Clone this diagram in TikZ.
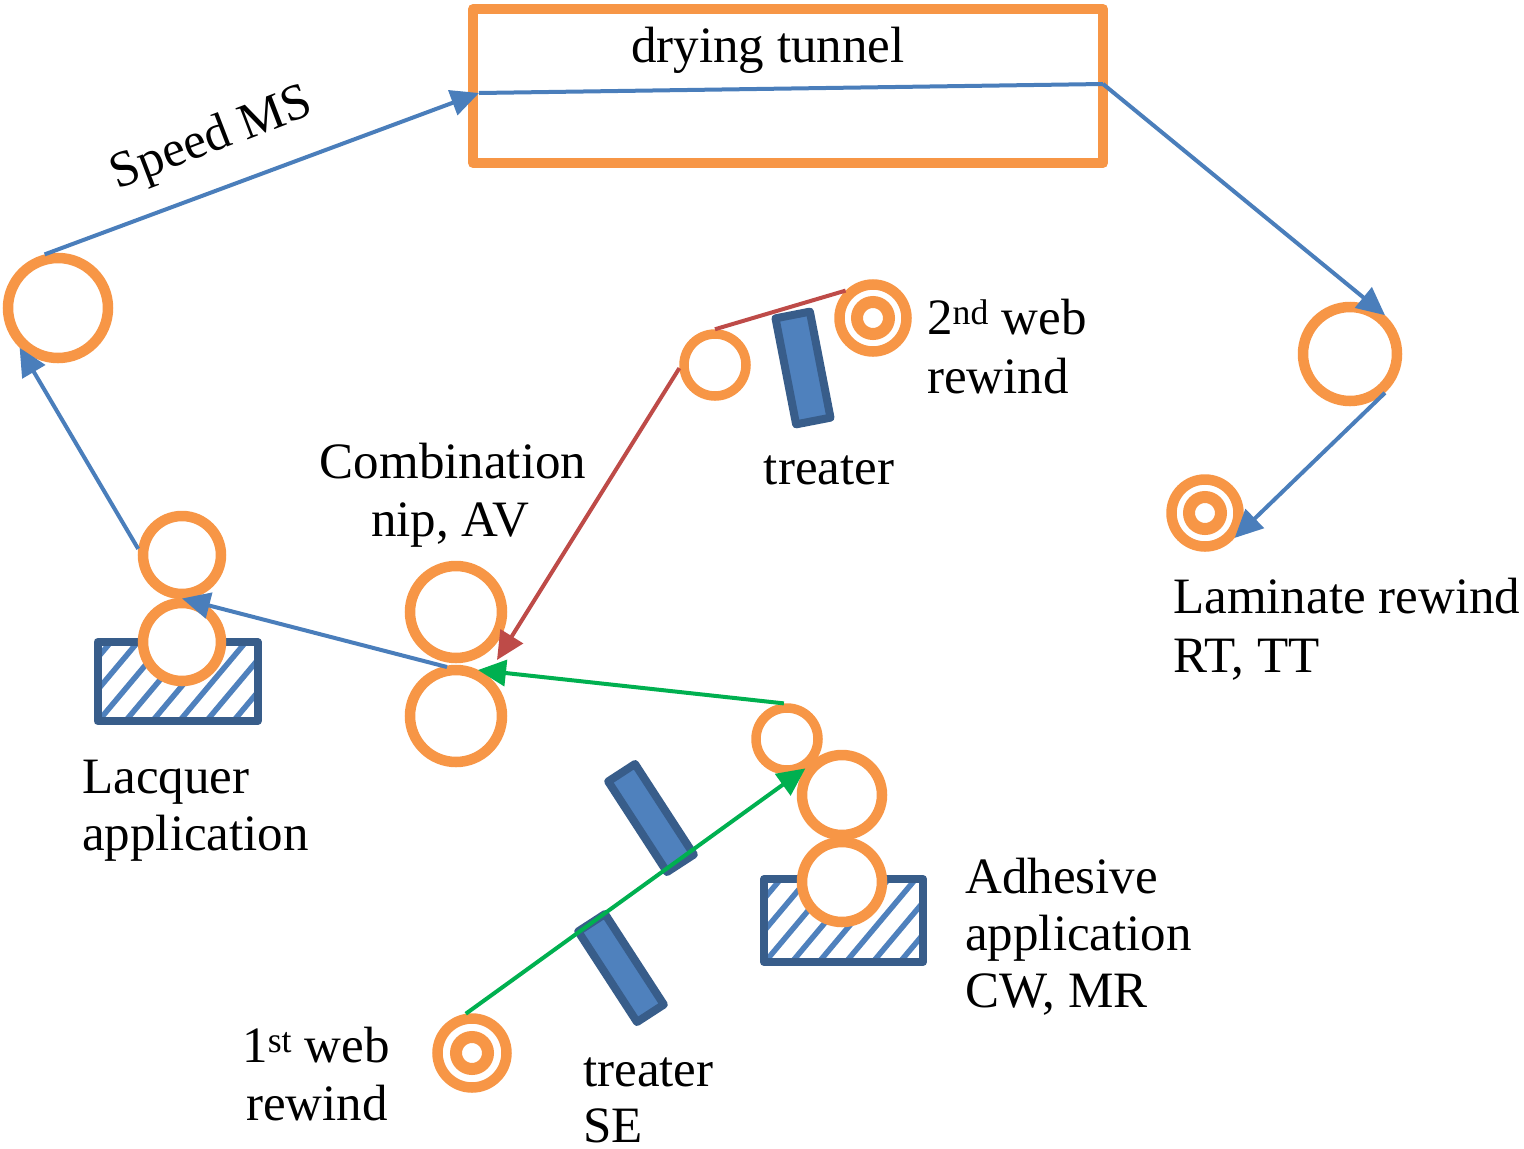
\documentclass[tikz,border=0pt]{standalone}
\usepackage{fontspec}
\setmainfont{Liberation Serif}
\usetikzlibrary{arrows.meta,calc}
\definecolor{rorange}{HTML}{F79646}
\definecolor{lblue}{HTML}{4A7EBB}
\definecolor{dkblue}{HTML}{385D8A}
\definecolor{midblue}{HTML}{4F81BD}
\definecolor{lred}{HTML}{BE4B48}
\definecolor{lgreen}{HTML}{00B050}
\begin{document}
\begin{tikzpicture}[x=1pt,y=-1pt,
  roller/.style={circle, draw=rorange, line width=10.5pt, fill=white, inner sep=0pt},
  rewind/.style={roller, minimum size=67pt,
    path picture={\draw[rorange, line width=12pt] (path picture bounding box.center) circle[radius=16pt];}},
  treaterbox/.style={rectangle, draw=dkblue, fill=midblue, line width=8pt, minimum width=32pt,
    minimum height=108pt, inner sep=0pt, line join=round},
  hatchbox/.style={rectangle, draw=dkblue, line width=8pt, inner sep=0pt, line join=round, fill=white,
    path picture={\foreach \i in {-80,-53,...,200}
      \draw[midblue, line width=5.5pt] ([xshift=\i pt]path picture bounding box.south west) -- ++(50:260pt);}},
  tunnelbox/.style={rectangle, draw=rorange, line width=10pt, inner sep=0pt, line join=round},
  web/.style={line width=4pt},
  conn/.style={web, -{Triangle[length=28pt,width=26pt]}},
  lbl/.style={font=\fontsize{51}{57}\selectfont, inner sep=0pt, anchor=base west}
]
\useasboundingbox (0,0) rectangle (1524,1149);

% application boxes
\node[hatchbox, minimum width=160pt, minimum height=79pt] (lacbox) at (177.5,681.5) {};
\node[hatchbox, minimum width=159pt, minimum height=83pt] (adhbox) at (843.5,920.5) {};

% treaters
\node[treaterbox, minimum width=35pt, rotate=11] (T3) at (803,368) {};
\node[treaterbox, rotate=33] (T1) at (651,818) {};
\node[treaterbox, rotate=33] (T2) at (621,968) {};

% drying tunnel
\node[tunnelbox, minimum width=630pt, minimum height=154pt] (tunnel) at (788,86) {};

% rollers
\node[roller, minimum size=100pt] (L1) at (58,308) {};
\node[roller, minimum size=78pt] (LT) at (182,555) {};
\node[roller, minimum size=78pt] (LB) at (182,642) {};
\node[roller, minimum size=92pt] (NT) at (456,612) {};
\node[roller, minimum size=92pt] (NB) at (456,716) {};
\node[roller, minimum size=62pt, line width=9.5pt] (S2) at (715,365) {};
\node[rewind] (W2) at (873,318) {};
\node[roller, minimum size=94pt] (R1) at (1350,354) {};
\node[rewind] (LRW) at (1205,513) {};
\node[roller, minimum size=62pt, line width=9.5pt] (S1) at (787,739) {};
\node[roller, minimum size=80pt] (AT) at (842,795) {};
\node[roller, minimum size=80pt] (AB) at (842,882) {};
\node[rewind, minimum size=69pt] (W1) at (472,1053) {};

% key points
\coordinate (tin) at (479,93);
\coordinate (tout) at (1103,84);
\coordinate (combnip) at ($(NT)!0.5!(NB)$);
\coordinate (lacnip) at ($(LT)!0.5!(LB)$);
\coordinate (rednip) at ($(combnip)+(41,-4)$);
\coordinate (greennip) at ($(combnip)+(22,6)$);
\coordinate (blueout) at ($(combnip)+(-9,3)$);

% webs
\draw[conn, lblue] (L1.104) -- (tin);
\draw[web, lblue] (tin) -- (tout);
\draw[conn, lblue] (tout) -- (R1.48);
\draw[conn, lblue] (R1.-48) -- (LRW.-40);
\draw[conn, lblue] (LT.172) -- (L1.226);
\draw[conn, lblue] (blueout) -- (lacnip);
\draw[web, lred] (W2.135) -- (S2.90);
\draw[conn, lred] (S2.185) -- (rednip);
\draw[conn, lgreen] (S1.95) -- (greennip);
\draw[conn, lgreen] (W1.99) -- (AT.144);

% labels
\node[lbl, anchor=base] (tdry) at (768,62) {drying tunnel};
\node[lbl, anchor=center, rotate=21] (tspeed) at (212,140) {Speed MS};
\node[lbl, anchor=base] (tcomb1) at (453,478) {Combination};
\node[lbl, anchor=base] (tcomb2) at (450,536) {nip, AV};
\node[lbl, anchor=base] (ttr1) at (829,484) {treater};
\node[lbl] (tw2a) at (927,334) {2\textsuperscript{nd} web};
\node[lbl] (tw2b) at (927,393) {rewind};
\node[lbl] (tlam1) at (1173,613) {Laminate rewind};
\node[lbl] (tlam2) at (1173,672) {RT, TT};
\node[lbl] (tlac1) at (82,793) {Lacquer};
\node[lbl] (tlac2) at (82,850) {application};
\node[lbl] (tadh1) at (965,893) {Adhesive};
\node[lbl] (tadh2) at (965,950) {application};
\node[lbl] (tadh3) at (965,1007) {CW, MR};
\node[lbl, anchor=base east] (tw1a) at (390,1062) {1\textsuperscript{st} web};
\node[lbl, anchor=base east] (tw1b) at (388,1120) {rewind};
\node[lbl] (ttr2a) at (583,1086) {treater};
\node[lbl] (ttr2b) at (583,1142) {SE};
\end{tikzpicture}
\end{document}
